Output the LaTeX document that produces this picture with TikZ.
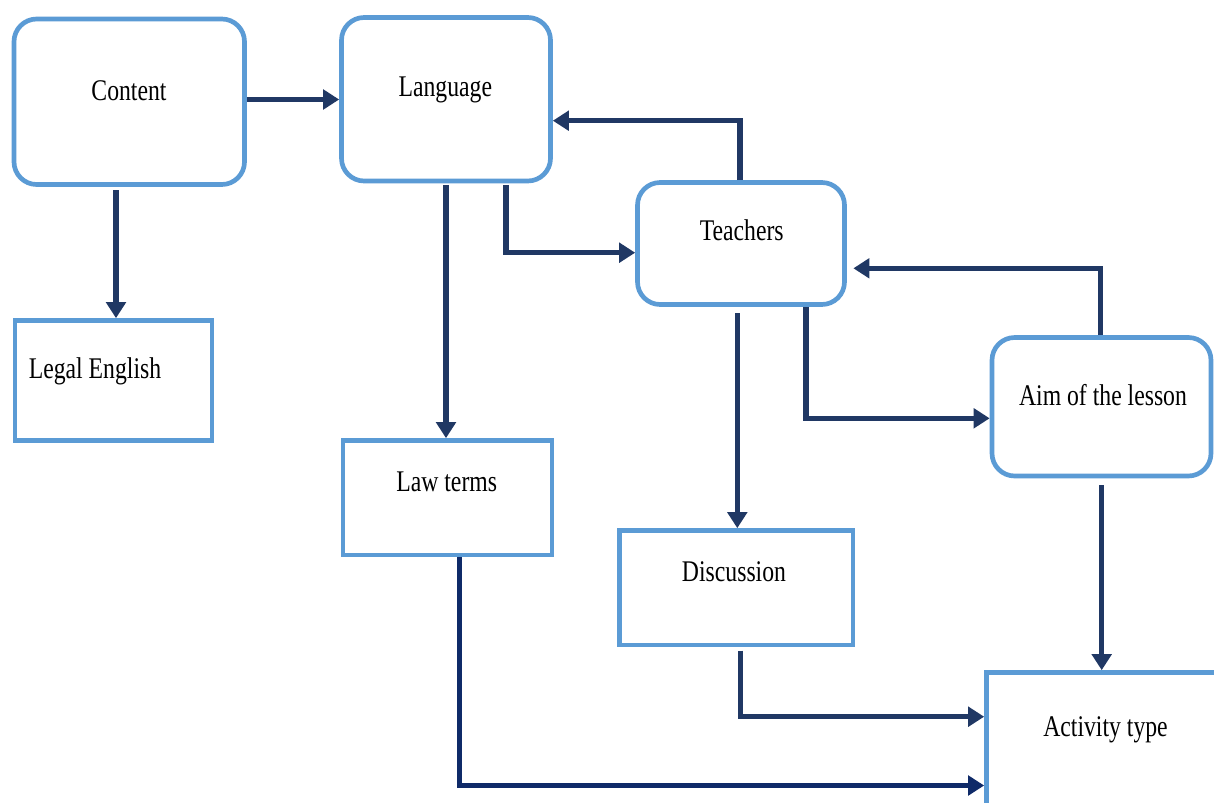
\documentclass[tikz,border=0pt]{standalone}
\usepackage{fontspec}
\setmainfont{Liberation Serif}[FakeStretch=0.79]
\usetikzlibrary{arrows.meta,fit}
\definecolor{boxblue}{HTML}{5B9BD5}
\definecolor{navy}{HTML}{203864}
\definecolor{deepnavy}{HTML}{0F2A68}
\begin{document}
\begin{tikzpicture}[x=0.75pt,y=-0.75pt,
  box/.style={draw=boxblue, line width=3.5pt, inner sep=0pt},
  roundbox/.style={box, rounded corners=17pt},
  lbl/.style={anchor=base, inner sep=0pt, text=black, font=\fontsize{22.5}{27}\selectfont},
  arr/.style={draw=navy, line width=4.1pt, -{Triangle[length=12pt,width=14.5pt]}},
]
\useasboundingbox (0,0) rectangle (1214,803);
\clip (0,0) rectangle (1214,803);
\fill[white] (0,0) rectangle (1214,803);

% boxes
\node[roundbox, fit={(14,19) (244.5,184.5)}] (content) {};
\node[roundbox, fit={(341.5,17.5) (550.5,181)}] (language) {};
\node[roundbox, fit={(637.5,182.5) (844.5,304.5)}] (teachers) {};
\node[roundbox, fit={(992,337.5) (1211,476)}] (aim) {};
\node[box, fit={(15,320.5) (212,440.5)}] (legal) {};
\node[box, fit={(343,440.5) (552,555)}] (law) {};
\node[box, fit={(619.5,530.5) (853,645)}] (disc) {};
\node[box, fit={(986.5,672.5) (1260,840)}] (act) {};

% labels
\node[lbl] (tcontent) at (129,100) {Content};
\node[lbl] (tlanguage) at (445.3,96.7) {Language};
\node[lbl] (tteachers) at (741.7,240) {Teachers};
\node[lbl] (taim) at (1103,405) {Aim of the lesson};
\node[lbl] (tlegal) at (95,378) {Legal English};
\node[lbl] (tlaw) at (446.7,491.7) {Law terms};
\node[lbl] (tdisc) at (734,581.7) {Discussion};
\node[lbl] (tact) at (1105.5,736.7) {Activity type};

% routing columns and rows of the connectors
\coordinate (k1) at (116,0);
\coordinate (k2) at (446,0);
\coordinate (k3) at (506,0);
\coordinate (k4) at (740,0);
\coordinate (k5) at (737.3,0);
\coordinate (k6) at (806,0);
\coordinate (k7) at (1100.7,0);
\coordinate (k8) at (1101.7,0);
\coordinate (k9) at (740.7,0);
\coordinate (k10) at (459.3,0);
\coordinate (r1) at (0,99.5);
\coordinate (r2) at (0,252.7);
\coordinate (r3) at (0,120.7);
\coordinate (r4) at (0,418.3);
\coordinate (r5) at (0,268.3);
\coordinate (r6) at (0,716.7);
\coordinate (r7) at (0,785.5);

% connectors
\draw[arr] (content.east |- r1) -- (language.west |- r1);
\draw[arr, shorten <=2.4pt] (content.south -| k1) -- (legal.north -| k1);
\draw[arr, shorten <=1.3pt] (language.south -| k2) -- (law.north -| k2);
\draw[arr, shorten <=1.3pt] (language.south -| k3) |- (teachers.west |- r2);
\draw[arr] (teachers.north -| k4) |- (language.east |- r3);
\draw[arr, shorten <=4.7pt] (teachers.south -| k5) -- (disc.north -| k5);
\draw[arr] (teachers.south -| k6) |- (aim.west |- r4);
\draw[arr, shorten >=4.9pt] (aim.north -| k7) |- (teachers.east |- r5);
\draw[arr, shorten <=5pt] (aim.south -| k8) -- (act.north -| k8);
\draw[arr, shorten <=2.5pt] (disc.south -| k9) |- (act.west |- r6);
\draw[arr, draw=deepnavy] (law.south -| k10) |- (act.west |- r7);
\end{tikzpicture}
\end{document}
